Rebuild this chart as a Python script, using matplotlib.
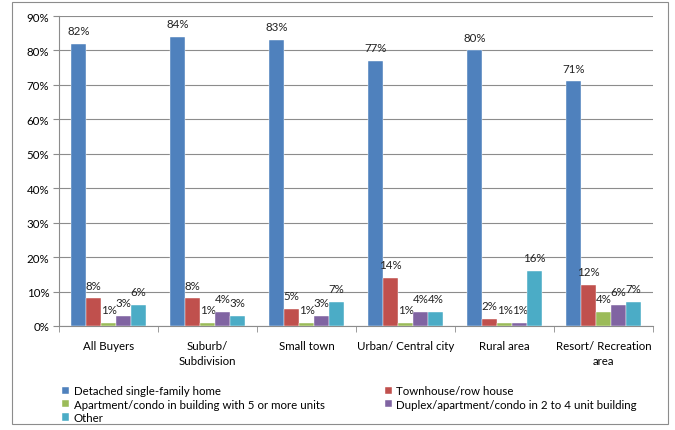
import matplotlib.pyplot as plt
import matplotlib.patches as mpatches
import numpy as np

plt.rcParams['font.family'] = ['Lato', 'DejaVu Sans']

categories = ['All Buyers', 'Suburb/\nSubdivision', 'Small town', 'Urban/ Central city',
              'Rural area', 'Resort/ Recreation\narea']
series = ['Detached single-family home', 'Townhouse/row house',
          'Apartment/condo in building with 5 or more units',
          'Duplex/apartment/condo in 2 to 4 unit building', 'Other']
detached = [82, 84, 83, 77, 80, 71]
townhouse = [8, 8, 5, 14, 2, 12]
apartment = [1, 1, 1, 1, 1, 4]
duplex = [3, 4, 3, 4, 1, 6]
other = [6, 3, 7, 4, 16, 7]
colors = ['#4F81BD', '#C0504D', '#9BBB59', '#8064A2', '#4BACC6']

values = [detached, townhouse, apartment, duplex, other]

fig = plt.figure(figsize=(6.75, 4.31), dpi=100)
# outer frame
fig.patches.append(mpatches.Rectangle((12/675, 1-425/431), 656/675, 422/431,
                                      transform=fig.transFigure, fill=False,
                                      edgecolor='#8c8c8c', linewidth=0.8))
ax = fig.add_axes([59/675, 1-327/431, 594/675, 310/431])

x = np.arange(len(categories))
w = 0.152
handles = []
for i, (vals, c) in enumerate(zip(values, colors)):
    pos = x + (i - 2) * w
    b = ax.bar(pos, vals, width=w, color=c, edgecolor='white', linewidth=0.3, zorder=3)
    handles.append(b)
    for p, v in zip(pos, vals):
        ax.text(p, v + 2.3, f'{v}%', ha='center', va='bottom', fontsize=8.3, color='#222222')

ax.set_ylim(0, 90)
ax.set_xlim(-0.5, len(categories) - 0.5)
ax.set_yticks(range(0, 91, 10))
ax.set_yticklabels([f'{t}%' for t in range(0, 91, 10)], fontsize=8.3)
ax.yaxis.grid(True, color='#8c8c8c', linewidth=0.8, zorder=0)
ax.set_xticks(x)
ax.set_xticklabels(categories, fontsize=8.3, linespacing=1.5)
ax.set_xticks(np.arange(-0.5, len(categories)), minor=True)
ax.tick_params(axis='x', which='major', length=0, pad=10)
ax.tick_params(axis='x', which='minor', length=4, color='#8c8c8c')
ax.tick_params(axis='y', length=4, color='#8c8c8c', pad=3)
for s in ['top', 'right']:
    ax.spines[s].set_visible(False)
for s in ['left', 'bottom']:
    ax.spines[s].set_color('#8c8c8c')
    ax.spines[s].set_linewidth(0.8)

order = [0, 2, 4, 1, 3]
fig.legend([handles[i] for i in order], [series[i] for i in order], ncol=2,
           loc='upper left', bbox_to_anchor=(52/675, 1-376/431), frameon=False,
           fontsize=8.3, handlelength=0.6, handleheight=0.6, handletextpad=0.4,
           labelspacing=0.2, columnspacing=5.2)

fig.savefig('out.png', dpi=100)
